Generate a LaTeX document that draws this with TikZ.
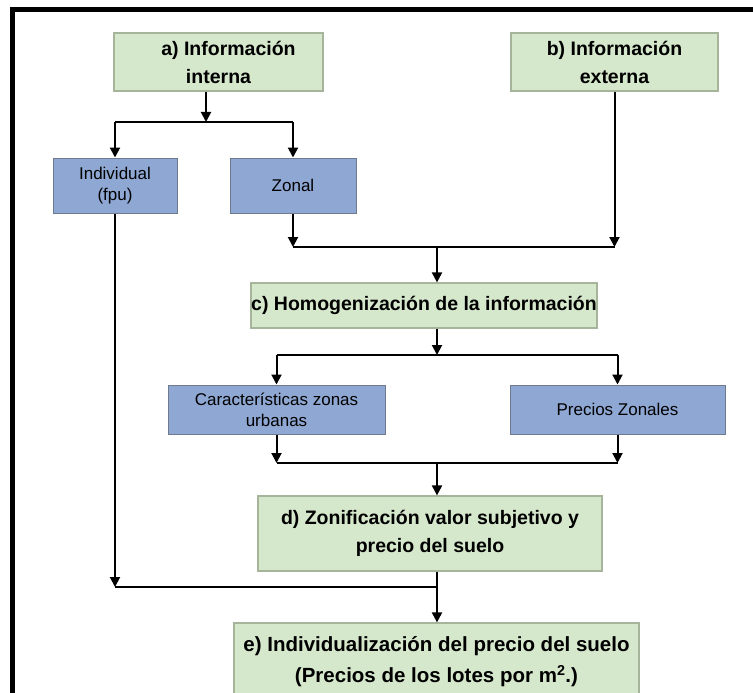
\documentclass[tikz,border=0pt]{standalone}
\usepackage{fontspec}
\setmainfont{Liberation Sans}
\usetikzlibrary{arrows.meta}
\definecolor{stagefill}{RGB}{214,232,204}
\definecolor{stageline}{RGB}{165,180,155}
\definecolor{sourcefill}{RGB}{142,167,211}
\definecolor{sourceline}{RGB}{112,122,142}
\tikzset{
  stage/.style={draw=stageline, fill=stagefill, line width=1.2pt, align=center, inner sep=0pt,
    font=\bfseries\fontsize{19.5}{28}\selectfont},
  source/.style={draw=sourceline, fill=sourcefill, line width=1pt, align=center, inner sep=0pt,
    font=\fontsize{17}{21}\selectfont},
  flow/.style={line width=2pt, -{Triangle[length=10pt,width=10pt]}},
  link/.style={line width=2pt}
}
\begin{document}
\begin{tikzpicture}[x=1pt, y=-1pt]
  \useasboundingbox (0,0) rectangle (753,693);

  % boxes
  \node[stage, minimum width=209pt, minimum height=58pt] (a) at (218.5,62) {\hspace*{20pt}a) Información\\interna};
  \node[stage, minimum width=207pt, minimum height=58pt] (b) at (614.5,62) {b) Información\\externa};
  \node[source, minimum width=124pt, minimum height=55pt] (ind) at (115,185.5) {Individual\\(fpu)};
  \node[source, minimum width=126pt, minimum height=55pt] (zon) at (293,185.5) {Zonal};
  \node[stage, minimum width=346pt, minimum height=45pt] (c) at (424,305.5) {c) Homogenización de la información};
  \node[source, minimum width=217pt, minimum height=49pt] (car) at (276.5,409.5) {Características zonas\\urbanas};
  \node[source, minimum width=215pt, minimum height=49pt] (pre) at (617.5,409.5) {Precios Zonales};
  \node[stage, minimum width=344pt, minimum height=75pt] (d) at (430,533.5) {d) Zonificación valor subjetivo y\\precio del suelo};
  \node[stage, minimum width=405pt, minimum height=78pt, font=\bfseries\fontsize{20.5}{31}\selectfont] (e) at (436.5,662) {e) Individualización del precio del suelo\\(Precios de los lotes por m\textsuperscript{2}.)};

  % junctions
  \coordinate (ja) at (206,122);
  \coordinate (jb) at (437,247);
  \coordinate (jc) at (437,355);
  \coordinate (jd) at (437,463);
  \coordinate (je) at (437,587);

  % a -> individual, zonal
  \draw[flow] (a.south -| ja) -- (ja);
  \draw[link] (ind.north |- ja) -- (zon.north |- ja);
  \draw[flow] (ind.north |- ja) -- (ind.north);
  \draw[flow] (zon.north |- ja) -- (zon.north);

  % zonal, b -> c
  \draw[flow] (zon.south) -- (zon.south |- jb);
  \draw[flow] (b.south) -- (b.south |- jb);
  \draw[link] (zon.south |- jb) -- (b.south |- jb);
  \draw[flow] (jb) -- (c.north -| jb);

  % c -> caracteristicas, precios
  \draw[flow] (c.south -| jc) -- (jc);
  \draw[link] (car.north |- jc) -- (pre.north |- jc);
  \draw[flow] (car.north |- jc) -- (car.north);
  \draw[flow] (pre.north |- jc) -- (pre.north);

  % -> d
  \draw[flow] (car.south) -- (car.south |- jd);
  \draw[flow] (pre.south) -- (pre.south |- jd);
  \draw[link] (car.south |- jd) -- (pre.south |- jd);
  \draw[flow] (jd) -- (d.north -| jd);

  % d, individual -> e
  \draw[link] (d.south -| je) -- (je);
  \draw[flow] (ind.south) -- (ind.south |- je);
  \draw[link] (ind.south |- je) -- (je);
  \draw[flow] (je) -- (e.north -| je);

  % frame
  \draw[line width=4.5pt] (12.5,700) -- (12.5,9.5) -- (760,9.5);
\end{tikzpicture}
\end{document}
